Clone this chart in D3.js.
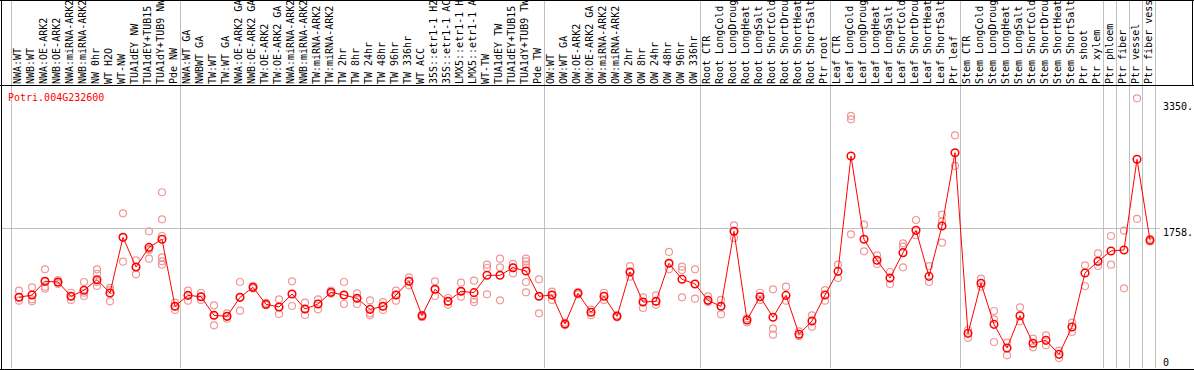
<!DOCTYPE html>
<html>
<head>
<meta charset="utf-8" />
<title>Potri.004G232600</title>
<script src="https://d3js.org/d3.v7.min.js"></script>
<style>
  body { margin: 0; background: white; }
  svg text { font-family: "DejaVu Sans Mono", monospace; font-size: 10px; }
</style>
</head>
<body>
<div id="chart"></div>
<script>
var gene = "Potri.004G232600";

var samples = ["NWA:WT", "NWB:WT", "NWA:OE-ARK2", "NWB:OE-ARK2", "NWA:miRNA-ARK2", "NWB:miRNA-ARK2",
  "NW 0hr", "WT H2O", "WT-NW", "TUA1dEY NW", "TUA1dEY+TUB15 NW", "TUA1dY+TUB9 NW", "Pde NW",
  "NWA:WT GA", "NWBWT GA", "TW:WT", "TW:WT GA", "NWA:OE-ARK2 GA", "NWB:OE-ARK2 GA", "TW:OE-ARK2",
  "TW:OE-ARK2 GA", "NWA:miRNA-ARK2 GA", "NWB:miRNA-ARK2 GA", "TW:miRNA-ARK2", "TW:miRNA-ARK2 GA",
  "TW 2hr", "TW 8hr", "TW 24hr", "TW 48hr", "TW 96hr", "TW 336hr", "WT ACC", "35S::etr1-1 H2O",
  "35S::etr1-1 ACC", "LMX5::etr1-1 H2O", "LMX5::etr1-1 ACC", "WT-TW", "TUA1dEY TW", "TUA1dEY+TUB15 TW",
  "TUA1dY+TUB9 TW", "Pde TW",
  "OW:WT", "OW:WT GA", "OW:OE-ARK2", "OW:OE-ARK2 GA", "OW:miRNA-ARK2", "OW:miRNA-ARK2 GA",
  "OW 2hr", "OW 8hr", "OW 24hr", "OW 48hr", "OW 96hr", "OW 336hr",
  "Root CTR", "Root LongCold", "Root LongDrought", "Root LongHeat", "Root LongSalt", "Root ShortCold",
  "Root ShortDrought", "Root ShortHeat", "Root ShortSalt", "Ptr root",
  "Leaf CTR", "Leaf LongCold", "Leaf LongDrought", "Leaf LongHeat", "Leaf LongSalt", "Leaf ShortCold",
  "Leaf ShortDrought", "Leaf ShortHeat", "Leaf ShortSalt", "Ptr leaf",
  "Stem CTR", "Stem LongCold", "Stem LongDrought", "Stem LongHeat", "Stem LongSalt", "Stem ShortCold",
  "Stem ShortDrought", "Stem ShortHeat", "Stem ShortSalt", "Ptr shoot", "Ptr xylem",
  "Ptr phloem", "Ptr fiber", "Ptr vessel", "Ptr fiber vessel"];

// mean expression per sample
var means = [890, 918, 1091, 1082, 902, 978, 1111, 944, 1644, 1271,
  1518, 1619, 776, 914, 897, 663, 650, 889, 1015, 801,
  768, 931, 742, 805, 952, 918, 877, 738, 776, 918,
  1091, 658, 990, 839, 965, 948, 1166, 1166, 1262, 1220,
  902, 918, 554, 940, 701, 902, 650, 1208, 830, 839,
  1317, 1116, 1057, 851, 776, 1720, 604, 897, 638, 914,
  424, 591, 918, 1216, 2667, 1619, 1355, 1132, 1451, 1732,
  1153, 1787, 2709, 436, 1066, 549, 252, 658, 311, 348,
  172, 516, 1195, 1342, 1472, 1485, 2626, 1607];

// replicate values per sample
var reps = [[973, 893, 847], [1015, 864, 839], [1242, 1023, 998, 1091], [1107, 1073, 1057],
  [947, 856, 902], [1082, 906, 947], [1242, 1183, 1082, 1032], [1007, 839, 980],
  [1946, 1338, 1644], [1355, 1179, 1271], [1720, 1485, 1375, 1500], [2211, 1871, 1661, 1393, 1342, 1300],
  [822, 730, 776], [973, 847, 914], [947, 856, 897], [789, 537, 663], [688, 620, 650],
  [1082, 721, 889], [1030, 1000, 1015], [820, 790, 801], [864, 679, 768], [1091, 780, 931],
  [822, 667, 742], [864, 738, 805], [975, 935, 952], [1082, 805, 918], [940, 805, 877],
  [851, 688, 663], [830, 730, 776], [973, 847, 918], [1141, 1040, 1091], [670, 640, 658],
  [1091, 906, 990], [881, 797, 839], [1073, 897, 965], [1099, 864, 830], [1300, 1258, 927],
  [1375, 1267, 851], [1309, 1191, 1262], [1375, 1342, 1300, 1262, 1082, 952], [1116, 688, 902],
  [960, 856, 918], [570, 540], [955, 925], [735, 665], [947, 856], [665, 638],
  [1283, 1149, 1208], [889, 755, 830], [914, 797, 839], [1460, 1242, 1317], [1275, 1233, 889],
  [1242, 872, 1057], [900, 830, 851], [856, 675, 776], [1795, 1636, 1720], [625, 575],
  [947, 856], [990, 495, 419], [1023, 847], [460, 400], [663, 520], [981, 847],
  [1300, 1132], [3171, 3129, 1682], [1803, 1468], [1418, 1309], [1208, 1057],
  [1569, 1526, 1267], [1862, 1670], [1283, 1082], [1929, 1846, 1577], [2928, 2542],
  [478, 377], [1124, 1023], [717, 612, 327], [319, 160], [763, 587], [369, 260],
  [411, 285], [218, 126], [570, 453], [1292, 1032], [1443, 1283], [1661, 1300],
  [1728, 1003], [3393, 1875], [1625, 1590]];

// group separators (index of first sample in each group, plus the end)
var groupStarts = [0, 13, 41, 53, 63, 73, 84, 85, 86, 87, 88];

var tickValues = [0, 1758, 3350];
var tickLabels = ["0", "1758.", "3350."];

var W = 1194, H = 370,
    headerBottom = 85.5,
    plotBottom = 368,
    colW = 13,
    left = 11,
    maxChars = 14;   // header only has room for this many

var x = d3.scaleLinear()
    .domain([0, samples.length])
    .range([left, left + colW * samples.length]);
var y = d3.scaleLinear()
    .domain([0, 3548])
    .range([plotBottom, 86]);

function cx(i) { return x(i) + 8; }

var svg = d3.select("#chart").append("svg")
    .attr("width", W)
    .attr("height", H);

// vertical group lines
svg.selectAll(".vline")
    .data(groupStarts)
    .enter().append("line")
    .attr("class", "vline")
    .attr("x1", function(d) { return Math.round(x(d)) + 0.5; })
    .attr("x2", function(d) { return Math.round(x(d)) + 0.5; })
    .attr("y1", 0)
    .attr("y2", plotBottom)
    .style("stroke", "#c0c0c0");

// horizontal grid line at middle tick
svg.append("line")
    .attr("x1", 1)
    .attr("x2", 1160)
    .attr("y1", Math.round(y(tickValues[1])) + 0.5)
    .attr("y2", Math.round(y(tickValues[1])) + 0.5)
    .style("stroke", "#c0c0c0");

// frame
svg.append("line").attr("x1", 0).attr("x2", W).attr("y1", 0.5).attr("y2", 0.5).style("stroke", "black");
svg.append("line").attr("x1", 0).attr("x2", W).attr("y1", headerBottom).attr("y2", headerBottom).style("stroke", "black");
svg.append("line").attr("x1", 0).attr("x2", W).attr("y1", 369.5).attr("y2", 369.5).style("stroke", "black");
svg.append("line").attr("x1", 1.5).attr("x2", 1.5).attr("y1", 0).attr("y2", H).style("stroke", "black");
svg.append("line").attr("x1", 1192.5).attr("x2", 1192.5).attr("y1", 0).attr("y2", headerBottom).style("stroke", "black");

// sample labels in header (long names are cut like in the original)
svg.append("g")
  .selectAll(".slabel")
    .data(samples)
    .enter().append("text")
    .attr("class", "slabel")
    .attr("transform", function(d, i) { return "translate(" + (x(i) + 10) + ",84) rotate(-90)"; })
    .attr("fill", "black")
    .text(function(d) { return d.length > maxChars ? d.slice(0, maxChars) : d; });

// y tick labels
svg.selectAll(".ylabel")
    .data(tickValues)
    .enter().append("text")
    .attr("class", "ylabel")
    .attr("x", 1163)
    .attr("y", function(d) { return y(d) + (d === 0 ? -2 : 8); })
    .attr("fill", "black")
    .text(function(d, i) { return tickLabels[i]; });

svg.append("text")
    .attr("x", 8)
    .attr("y", 101)
    .attr("fill", "red")
    .text(gene);

// replicate points
var repPts = [];
reps.forEach(function(r, i) {
  r.forEach(function(v) { repPts.push({i: i, v: v}); });
});
svg.selectAll(".rep")
    .data(repPts)
    .enter().append("circle")
    .attr("class", "rep")
    .attr("cx", function(d) { return cx(d.i); })
    .attr("cy", function(d) { return y(d.v); })
    .attr("r", 3.5)
    .style("fill", "none")
    .style("stroke", "#f09898")
    .style("stroke-width", 1.2);

// mean line
var line = d3.line()
    .x(function(d, i) { return cx(i); })
    .y(function(d) { return y(d); });
svg.append("path")
    .datum(means)
    .attr("d", line)
    .style("fill", "none")
    .style("stroke", "red")
    .style("stroke-width", 1);

svg.selectAll(".mean")
    .data(means)
    .enter().append("circle")
    .attr("class", "mean")
    .attr("cx", function(d, i) { return cx(i); })
    .attr("cy", function(d) { return y(d); })
    .attr("r", 3.8)
    .style("fill", "none")
    .style("stroke", "red")
    .style("stroke-width", 1.5);
</script>
</body>
</html>
